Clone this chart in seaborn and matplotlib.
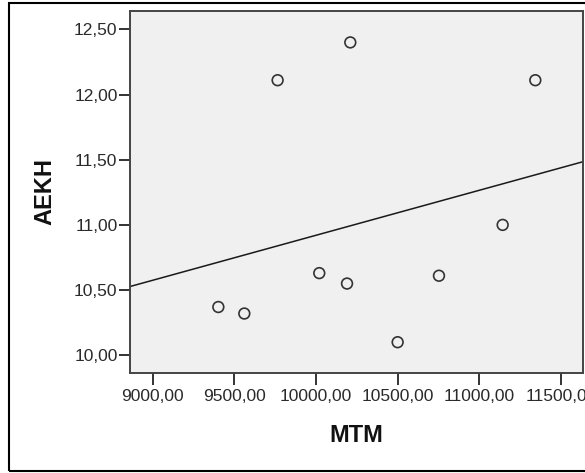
import matplotlib
matplotlib.use("Agg")
import matplotlib.pyplot as plt
from matplotlib.patches import Rectangle
from matplotlib.ticker import FixedLocator, FuncFormatter
import seaborn as sns
import pandas as pd

# Data
mtm = [9402, 9561, 9765, 10210, 11343, 11143, 10020, 10190, 10753, 10500]
aekh = [10.37, 10.32, 12.11, 12.40, 12.11, 11.00, 10.63, 10.55, 10.61, 10.10]
x_ticks = [9000, 9500, 10000, 10500, 11000, 11500]
y_ticks = [10.0, 10.5, 11.0, 11.5, 12.0, 12.5]
x_label = "MTM"
y_label = "AEKH"

df = pd.DataFrame({x_label: mtm, y_label: aekh})

sns.set_style("white", {"axes.facecolor": "#F0F0F0"})
plt.rcParams["font.family"] = ["Liberation Sans", "DejaVu Sans"]

fig = plt.figure(figsize=(5.85, 4.73), dpi=100)
fig.patch.set_facecolor("white")
ax = fig.add_axes([130 / 585, 1 - 372.7 / 473, (583 - 130) / 585, (372.7 - 11) / 473])

xlim = (8861, 11635)
ylim = (9.866, 12.641)
ax.set_xlim(*xlim)
ax.set_ylim(*ylim)

sns.regplot(
    data=df, x=x_label, y=y_label, ax=ax, ci=None, truncate=False,
    color="#333333", marker="o",
    scatter_kws=dict(facecolors="none", edgecolors="#333333", s=60,
                     linewidths=1.2, alpha=1, zorder=3),
    line_kws=dict(color="#1a1a1a", linewidth=1.1, zorder=2),
)
ax.set_xlim(*xlim)
ax.set_ylim(*ylim)

ax.xaxis.set_major_locator(FixedLocator(x_ticks))
ax.yaxis.set_major_locator(FixedLocator(y_ticks))
ax.xaxis.set_major_formatter(FuncFormatter(lambda v, p: f"{v:.2f}".replace(".", ",")))
ax.yaxis.set_major_formatter(FuncFormatter(lambda v, p: f"{v:.2f}".replace(".", ",")))

ax.tick_params(axis="both", direction="out", length=8, width=1.4, color="#333333",
               labelsize=12.5, labelcolor="#2a2a2a", bottom=True, left=True)
ax.tick_params(axis="y", pad=1)
ax.tick_params(axis="x", pad=3, length=8.5)

for s in ax.spines.values():
    s.set_color("#444444")
    s.set_linewidth(1.4)
    s.set_visible(True)

ax.set_xlabel(x_label, fontsize=17, fontweight="bold", color="#111111", va="center")
ax.set_ylabel(y_label, fontsize=17, fontweight="bold", color="#111111", va="center")
ax.xaxis.set_label_coords(0.5, (372.7 - 435) / 361.7)
ax.yaxis.set_label_coords((45 - 130) / 453, 0.5)

# outer frame
fig.patches.append(Rectangle((9 / 585, 2 / 473), 1.2, (471 - 3) / 473,
                             transform=fig.transFigure, fill=False,
                             edgecolor="black", linewidth=1.5, zorder=0))

fig.savefig("out.png", dpi=100)
